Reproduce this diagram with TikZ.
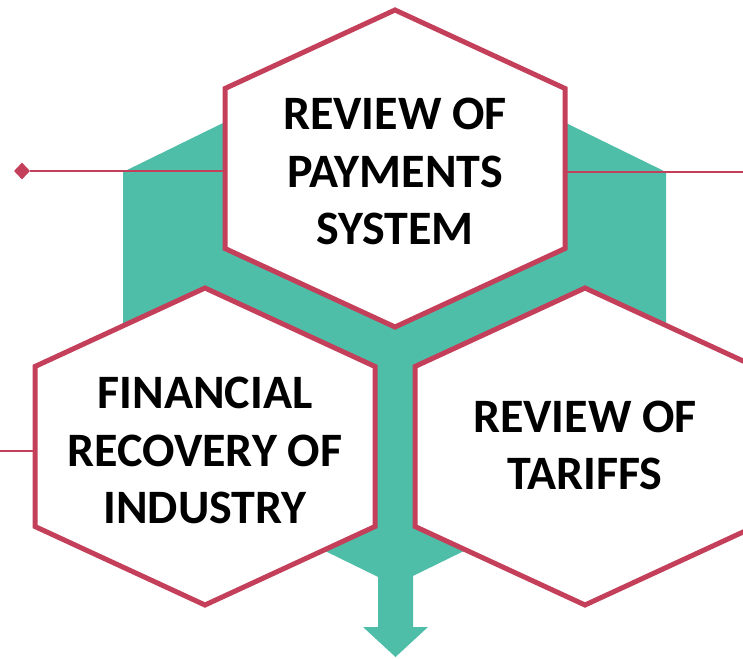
\documentclass[tikz,border=0pt]{standalone}
\usepackage{fontspec}
\setmainfont{Carlito}
\usepackage{tikz}
\usetikzlibrary{
  shapes.geometric}
\definecolor{crimson}{HTML}{C4405A}
\definecolor{hexteal}{HTML}{4FBEA9}
\tikzset{
  hexbox/.style={draw=crimson, line width=5pt, fill=white, line join=miter},
  hexlabel/.style={align=center, font=\bfseries\fontsize{48}{57.5}\selectfont},
  link/.style={draw=crimson, line width=2pt}}

\begin{document}
\begin{tikzpicture}[x=1pt,y=-1pt]
  \useasboundingbox (0,0) rectangle (743,658);
  % teal backdrop and arrow
  \fill[hexteal] (394.5,39) -- (666,172) -- (666,452) -- (394.5,585) --
  (123,452) -- (123,172) -- cycle;
  \fill[hexteal] (378,560) -- (378,627) -- (363,627) -- (395.5,657) --
  (428,627) -- (413,627) -- (413,560) -- cycle;

  \node[diamond, fill=crimson, inner sep=0, minimum width=16pt,
  minimum height=17pt] (dot) at (22,171) {};
  \coordinate (payw) at (225,171);
  \coordinate (paye) at (565,172);
  \coordinate (rightend) at (743,172);
  \coordinate (finw) at (35,451);
  \coordinate (leftend) at (0,451);
  \draw[link] (dot) -- (payw);
  \draw[link] (paye) -- (rightend);
  \draw[link] (leftend) -- (finw);

  \begin{scope}[shift={(395,168.5)}]
  \draw[hexbox] (0,-158.5) -- (170,-80) -- (170,80) -- (0,158.5) --
  (-170,80) -- (-170,-80) -- cycle;
  \node[hexlabel] (payments) at (0,3) {REVIEW OF\\PAYMENTS\\SYSTEM};
  \end{scope}

  \begin{scope}[shift={(205,446.5)}]
  \draw[hexbox] (0,-158.5) -- (170,-80) -- (170,80) -- (0,158.5) --
  (-170,80) -- (-170,-80) -- cycle;
  \node[hexlabel] (recovery) at (0,4) {FINANCIAL\\RECOVERY OF\\INDUSTRY};
  \end{scope}

  \begin{scope}[shift={(585,446.5)}]
  \draw[hexbox] (0,-158.5) -- (170,-80) -- (170,80) -- (0,158.5) --
  (-170,80) -- (-170,-80) -- cycle;
  \node[hexlabel] (tariffs) at (0,-1) {REVIEW OF\\TARIFFS};
  \end{scope}
\end{tikzpicture}
\end{document}
